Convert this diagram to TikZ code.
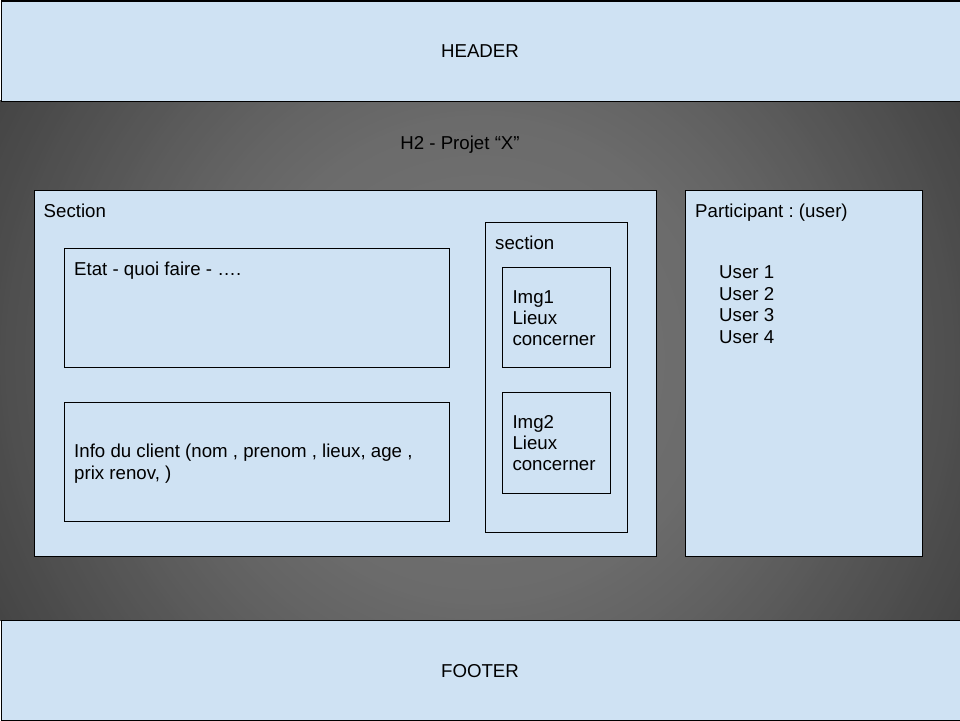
\documentclass[tikz,border=0pt]{standalone}
\usepackage{fontspec}
\setmainfont{Liberation Sans}
\definecolor{paleblue}{HTML}{CFE2F3}
\begin{document}
\begin{tikzpicture}[x=1pt,y=-1pt,
  panel/.style={draw=black,line width=1pt,fill=paleblue,rectangle,inner sep=0pt,anchor=north west},
  lbl/.style={anchor=base west,inner sep=0pt,font=\fontsize{18.67}{21.5}\selectfont\frenchspacing},
  clbl/.style={anchor=base,inner sep=0pt,font=\fontsize{18.67}{21.5}\selectfont\frenchspacing}]
\useasboundingbox (0,0) rectangle (960,720);
% dark gradient band (radial, drawn as concentric discs)
\begin{scope}
  \clip (0,100) rectangle (960,620);
  \foreach \r in {570,565,...,0}{
    \pgfmathsetmacro\gv{(\r<240 ? 119-12*\r/240 : (\r<325 ? 107-9*(\r-240)/85 : 98-28*(\r-325)/215))/255}
    \definecolor{ringcol}{gray}{\gv}
    \fill[ringcol] (480,360) circle (\r pt);
  }
\end{scope}
% header / footer
\node[panel,minimum width=959pt,minimum height=100pt] (header) at (0.5,0.5) {};
\node[panel,minimum width=959pt,minimum height=100pt] (footer) at (0.5,619.5) {};
\node[clbl] (headertxt) at (480,57.5) {HEADER};
\node[clbl] (footertxt) at (480,677.5) {FOOTER};
\node[clbl] (h2) at (460,149.5) {H2 - Projet “X”};
% main section
\node[panel,minimum width=622pt,minimum height=366.5pt] (section) at (34,189.5) {};
\node[lbl] (sectiontxt) at (43.5,217.5) {Section};
\node[panel,minimum width=385pt,minimum height=119pt] (etat) at (64,247.5) {};
\node[lbl] (etattxt) at (74,275.8) {Etat - quoi faire - \dots.};
\node[panel,minimum width=385pt,minimum height=119pt] (info) at (64,401.5) {};
\node[lbl] (info1) at (74,457.6) {Info du client (nom , prenom , lieux, age ,};
\node[lbl] (info2) at (74,479.1) {prix renov, )};
% inner section
\node[panel,minimum width=142pt,minimum height=310pt] (subsec) at (485,221.5) {};
\node[lbl] (subsectxt) at (495,249.1) {section};
\node[panel,minimum width=108pt,minimum height=100pt] (img1) at (502,266.5) {};
\node[lbl] (img1a) at (512.3,303.3) {Img1};
\node[lbl] (img1b) at (512.3,324.6) {Lieux};
\node[lbl] (img1c) at (512.3,345.9) {concerner};
\node[panel,minimum width=108pt,minimum height=101pt] (img2) at (502,391.5) {};
\node[lbl] (img2a) at (512.3,428.3) {Img2};
\node[lbl] (img2b) at (512.3,449.6) {Lieux};
\node[lbl] (img2c) at (512.3,470.9) {concerner};
% participant
\node[panel,minimum width=237pt,minimum height=366.5pt] (part) at (685,189.5) {};
\node[lbl] (parttxt) at (695,217.5) {Participant : (user)};
\node[lbl] (u1) at (719,278.5) {User 1};
\node[lbl] (u2) at (719,300.1) {User 2};
\node[lbl] (u3) at (719,321.7) {User 3};
\node[lbl] (u4) at (719,343.3) {User 4};
\end{tikzpicture}
\end{document}
